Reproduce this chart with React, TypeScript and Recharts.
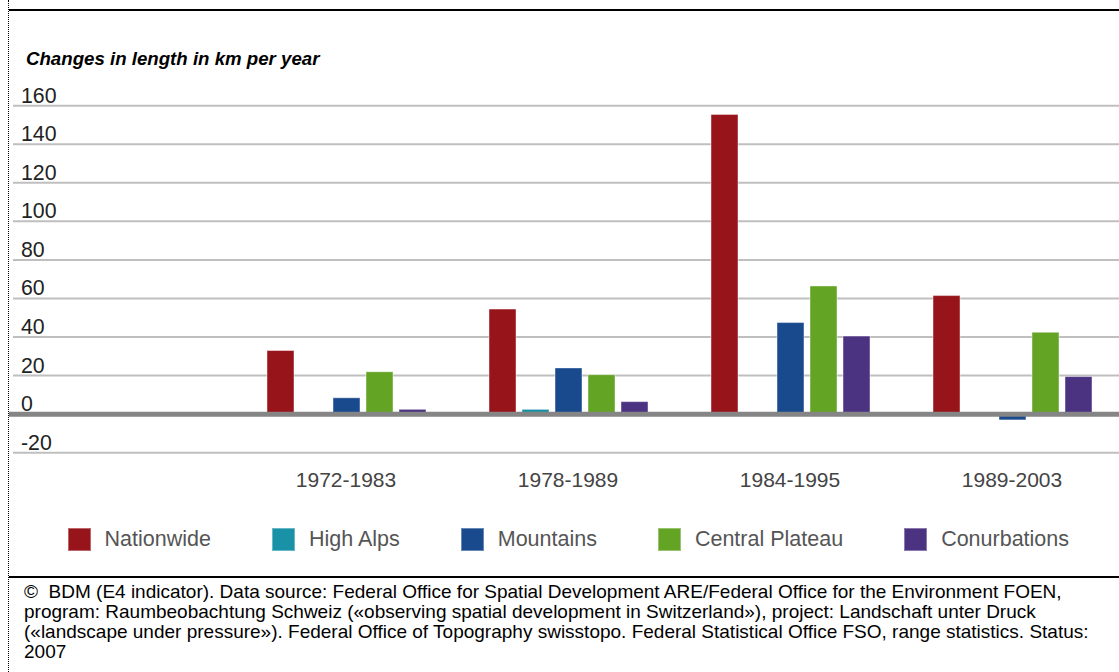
import React from "react";
import { BarChart, Bar, XAxis, YAxis, CartesianGrid, ReferenceLine } from "recharts";

const categories = ["", "1972-1983", "1978-1989", "1984-1995", "1989-2003"];
const nationwide = [null, 33, 54.5, 155.5, 61.5];
const highAlps = [null, null, 2.5, null, null];
const mountains = [null, 8.5, 24, 47.5, -3];
const centralPlateau = [null, 22, 20.5, 66.5, 42.5];
const conurbations = [null, 2.5, 6.5, 40.5, 19.5];
const yTicks = [-20, 0, 20, 40, 60, 80, 100, 120, 140, 160];

const series = [
  { key: "nationwide", name: "Nationwide", color: "#97141b", values: nationwide },
  { key: "highAlps", name: "High Alps", color: "#1992a7", values: highAlps },
  { key: "mountains", name: "Mountains", color: "#1a4a8e", values: mountains },
  { key: "centralPlateau", name: "Central Plateau", color: "#63a425", values: centralPlateau },
  { key: "conurbations", name: "Conurbations", color: "#4c3382", values: conurbations },
];

const data = categories.map((c, i) => {
  const row: Record<string, any> = { category: c };
  series.forEach((s) => {
    row[s.key] = s.values[i];
  });
  return row;
});

const FONT = '"Liberation Sans", Arial, Helvetica, sans-serif';

const YTick = (props: any) => {
  const { y, payload } = props;
  return (
    <text x={21} y={y - 3} textAnchor="start" fontSize={21.3} fill="#222" fontFamily={FONT}>
      {payload.value}
    </text>
  );
};

const XTick = (props: any) => {
  const { x, y, payload } = props;
  return (
    <text x={x} y={y + 34.6} textAnchor="middle" fontSize={21} fill="#444" fontFamily={FONT}>
      {payload.value}
    </text>
  );
};

const ZeroLine = (props: any) => {
  const { x1, y1, x2, y2 } = props;
  return <line x1={x1 - 4} y1={y1} x2={x2} y2={y2} stroke="#858585" strokeWidth={5} />;
};

export default function App() {
  return (
    <div
      style={{
        position: "absolute",
        left: 0,
        top: 0,
        width: 1119,
        height: 672,
        overflow: "hidden",
        background: "#fff",
        fontFamily: FONT,
      }}
    >
      <div style={{ position: "absolute", left: 7.5, top: 0, width: 0, height: 672, borderLeft: "1px dotted #000" }} />
      <div style={{ position: "absolute", left: 9, top: 9, width: 1110, height: 2, background: "#000" }} />
      <div
        style={{
          position: "absolute",
          left: 26,
          top: 50,
          fontSize: 18.67,
          lineHeight: "18.67px",
          fontWeight: "bold",
          fontStyle: "italic",
          color: "#000",
          whiteSpace: "nowrap",
        }}
      >
        Changes in length in km per year
      </div>
      <div style={{ position: "absolute", left: 0, top: 0 }}>
        <BarChart
          width={1130}
          height={500}
          data={data}
          margin={{ top: 105.7, right: 7, bottom: 7.3, left: 0 }}
          barSize={27}
          barGap={6}
        >
          <CartesianGrid vertical={false} stroke="#bfbfbf" strokeWidth={2} />
          <XAxis
            dataKey="category"
            axisLine={false}
            tickLine={false}
            tickSize={0}
            tickMargin={0}
            height={40}
            interval={0}
            tick={<XTick />}
          />
          <YAxis
            domain={[-20, 160]}
            ticks={yTicks}
            width={13}
            axisLine={false}
            tickLine={false}
            interval={0}
            tick={<YTick />}
          />
          {series.map((s) => (
            <Bar
              key={s.key}
              dataKey={s.key}
              name={s.name}
              fill={s.color}
              stroke="#ffffff"
              strokeOpacity={0.45}
              strokeWidth={1}
              isAnimationActive={false}
            />
          ))}
          <ReferenceLine y={0} stroke="#858585" strokeWidth={5} shape={ZeroLine} />
        </BarChart>
      </div>
      <div
        style={{
          position: "absolute",
          left: 67.5,
          top: 528,
          display: "flex",
          alignItems: "center",
          height: 23,
        }}
      >
        {series.map((s, i) => (
          <div
            key={s.key}
            style={{ display: "flex", alignItems: "center", marginRight: i < series.length - 1 ? 61 : 0 }}
          >
            <div
              style={{
                width: 23,
                height: 23,
                background: s.color,
                boxSizing: "border-box",
                border: "1px solid rgba(255,255,255,0.35)",
                marginRight: 14,
              }}
            />
            <span style={{ fontSize: 21.5, color: "#555", whiteSpace: "nowrap", lineHeight: "23px" }}>{s.name}</span>
          </div>
        ))}
      </div>
      <div style={{ position: "absolute", left: 9, top: 576, width: 1110, height: 2, background: "#000" }} />
      <div
        style={{
          position: "absolute",
          left: 24,
          top: 582,
          fontSize: 19,
          lineHeight: "20px",
          color: "#000",
          whiteSpace: "nowrap",
        }}
      >
        ©&nbsp; BDM (E4 indicator). Data source: Federal Office for Spatial Development ARE/Federal Office for the Environment FOEN,
        <br />
        program: Raumbeobachtung Schweiz («observing spatial development in Switzerland»), project: Landschaft unter Druck
        <br />
        («landscape under pressure»). Federal Office of Topography swisstopo. Federal Statistical Office FSO, range statistics. Status:
        <br />
        2007
      </div>
    </div>
  );
}
